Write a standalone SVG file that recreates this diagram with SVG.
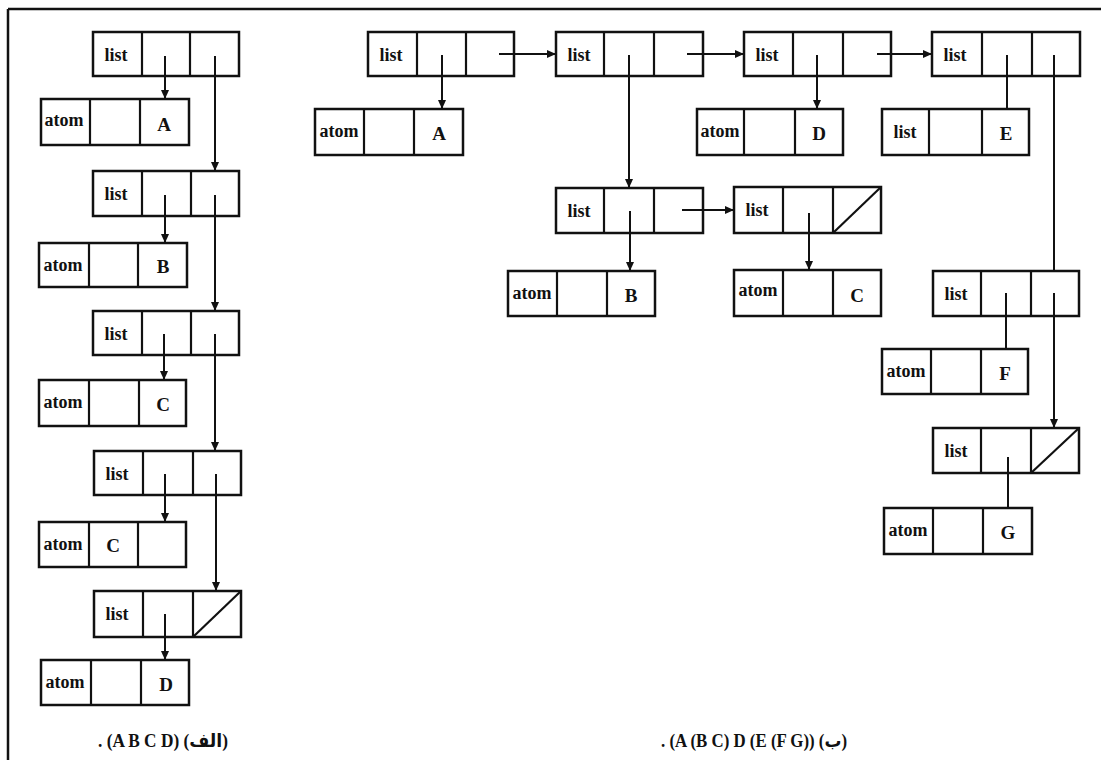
<svg xmlns="http://www.w3.org/2000/svg" width="1101" height="760" viewBox="0 0 1101 760">
<style>
.box{fill:#fff;stroke:#111;stroke-width:2.5}
.div{stroke:#111;stroke-width:2.2}
.ptr{stroke:#111;stroke-width:2;fill:none}
.w{font-family:"Liberation Serif","DejaVu Serif",serif;font-weight:bold;font-size:18px;fill:#111;text-anchor:middle}
.l{font-family:"Liberation Serif","DejaVu Serif",serif;font-weight:bold;font-size:19px;fill:#111;text-anchor:middle}
.cap{font-family:"Liberation Serif","DejaVu Sans",serif;font-weight:bold;font-size:18px;fill:#111}
</style>
<defs>
<marker id="ah" markerUnits="userSpaceOnUse" markerWidth="10" markerHeight="8" refX="9" refY="4" orient="auto">
<path d="M0,0 L9,4 L0,8 z" fill="#111"/>
</marker>
</defs>
<rect x="0" y="0" width="1101" height="760" fill="#fff"/>
<g id="frame">
<line x1="8" y1="9" x2="1101" y2="9" stroke="#111" stroke-width="2.5"/>
<line x1="8" y1="9" x2="8" y2="760" stroke="#111" stroke-width="2.5"/>
</g>

<!-- Left diagram -->
<g id="L1"><rect class="box" x="93" y="32" width="146" height="44"/><line class="div" x1="142" y1="32" x2="142" y2="76"/><line class="div" x1="190" y1="32" x2="190" y2="76"/><text class="w" x="116" y="61">list</text></g>
<g id="LA"><rect class="box" x="41" y="99" width="148" height="46"/><line class="div" x1="90" y1="99" x2="90" y2="145"/><line class="div" x1="140" y1="99" x2="140" y2="145"/><text class="w" x="64" y="126">atom</text><text class="l" x="164" y="131">A</text></g>
<g id="L2"><rect class="box" x="93" y="171" width="146" height="45"/><line class="div" x1="142" y1="171" x2="142" y2="216"/><line class="div" x1="191" y1="171" x2="191" y2="216"/><text class="w" x="116" y="200">list</text></g>
<g id="LB"><rect class="box" x="39" y="243" width="148" height="44"/><line class="div" x1="89" y1="243" x2="89" y2="287"/><line class="div" x1="138" y1="243" x2="138" y2="287"/><text class="w" x="63" y="271">atom</text><text class="l" x="163" y="273">B</text></g>
<g id="L3"><rect class="box" x="93" y="311" width="146" height="44"/><line class="div" x1="142" y1="311" x2="142" y2="355"/><line class="div" x1="191" y1="311" x2="191" y2="355"/><text class="w" x="116" y="340">list</text></g>
<g id="LC"><rect class="box" x="39" y="380" width="147" height="46"/><line class="div" x1="89" y1="380" x2="89" y2="426"/><line class="div" x1="139" y1="380" x2="139" y2="426"/><text class="w" x="63" y="408">atom</text><text class="l" x="163" y="411">C</text></g>
<g id="L4"><rect class="box" x="94" y="451" width="147" height="44"/><line class="div" x1="143" y1="451" x2="143" y2="495"/><line class="div" x1="193" y1="451" x2="193" y2="495"/><text class="w" x="117" y="480">list</text></g>
<g id="LC2"><rect class="box" x="39" y="522" width="147" height="45"/><line class="div" x1="89" y1="522" x2="89" y2="567"/><line class="div" x1="138" y1="522" x2="138" y2="567"/><text class="w" x="63" y="550">atom</text><text class="l" x="113" y="552">C</text></g>
<g id="L5"><rect class="box" x="94" y="591" width="147" height="46"/><line class="div" x1="143" y1="591" x2="143" y2="637"/><line class="div" x1="193" y1="591" x2="193" y2="637"/><line class="div" x1="193" y1="637" x2="241" y2="591"/><text class="w" x="117" y="620">list</text></g>
<g id="LD"><rect class="box" x="41" y="660" width="148" height="45"/><line class="div" x1="91" y1="660" x2="91" y2="705"/><line class="div" x1="141" y1="660" x2="141" y2="705"/><text class="w" x="65" y="688">atom</text><text class="l" x="166" y="691">D</text></g>

<!-- Right diagram -->
<g id="R1"><rect class="box" x="368" y="32" width="146" height="44"/><line class="div" x1="417" y1="32" x2="417" y2="76"/><line class="div" x1="466" y1="32" x2="466" y2="76"/><text class="w" x="391" y="61">list</text></g>
<g id="RA"><rect class="box" x="315" y="109" width="148" height="46"/><line class="div" x1="364" y1="109" x2="364" y2="155"/><line class="div" x1="414" y1="109" x2="414" y2="155"/><text class="w" x="339" y="137">atom</text><text class="l" x="439" y="140">A</text></g>
<g id="R2"><rect class="box" x="556" y="32" width="147" height="44"/><line class="div" x1="604" y1="32" x2="604" y2="76"/><line class="div" x1="654" y1="32" x2="654" y2="76"/><text class="w" x="579" y="61">list</text></g>
<g id="R3"><rect class="box" x="744" y="32" width="147" height="44"/><line class="div" x1="793" y1="32" x2="793" y2="76"/><line class="div" x1="843" y1="32" x2="843" y2="76"/><text class="w" x="767" y="61">list</text></g>
<g id="RD"><rect class="box" x="697" y="109" width="146" height="46"/><line class="div" x1="744" y1="109" x2="744" y2="155"/><line class="div" x1="795" y1="109" x2="795" y2="155"/><text class="w" x="720" y="137">atom</text><text class="l" x="819" y="140">D</text></g>
<g id="R4"><rect class="box" x="932" y="32" width="148" height="44"/><line class="div" x1="982" y1="32" x2="982" y2="76"/><line class="div" x1="1032" y1="32" x2="1032" y2="76"/><text class="w" x="955" y="61">list</text></g>
<g id="RE"><rect class="box" x="882" y="109" width="147" height="46"/><line class="div" x1="929" y1="109" x2="929" y2="155"/><line class="div" x1="982" y1="109" x2="982" y2="155"/><text class="w" x="905" y="138">list</text><text class="l" x="1006" y="140">E</text></g>
<g id="R5"><rect class="box" x="556" y="188" width="147" height="45"/><line class="div" x1="604" y1="188" x2="604" y2="233"/><line class="div" x1="654" y1="188" x2="654" y2="233"/><text class="w" x="579" y="217">list</text></g>
<g id="RB"><rect class="box" x="508" y="271" width="147" height="45"/><line class="div" x1="557" y1="271" x2="557" y2="316"/><line class="div" x1="607" y1="271" x2="607" y2="316"/><text class="w" x="532" y="299">atom</text><text class="l" x="631" y="302">B</text></g>
<g id="R7"><rect class="box" x="734" y="187" width="147" height="46"/><line class="div" x1="783" y1="187" x2="783" y2="233"/><line class="div" x1="833" y1="187" x2="833" y2="233"/><line class="div" x1="833" y1="233" x2="881" y2="187"/><text class="w" x="757" y="216">list</text></g>
<g id="RC"><rect class="box" x="734" y="270" width="147" height="46"/><line class="div" x1="783" y1="270" x2="783" y2="316"/><line class="div" x1="833" y1="270" x2="833" y2="316"/><text class="w" x="758" y="296">atom</text><text class="l" x="857" y="302">C</text></g>
<g id="R6"><rect class="box" x="933" y="271" width="146" height="45"/><line class="div" x1="981" y1="271" x2="981" y2="316"/><line class="div" x1="1031" y1="271" x2="1031" y2="316"/><text class="w" x="956" y="300">list</text></g>
<g id="RF"><rect class="box" x="882" y="349" width="146" height="45"/><line class="div" x1="931" y1="349" x2="931" y2="394"/><line class="div" x1="981" y1="349" x2="981" y2="394"/><text class="w" x="906" y="377">atom</text><text class="l" x="1005" y="380">F</text></g>
<g id="R8"><rect class="box" x="933" y="428" width="146" height="45"/><line class="div" x1="981" y1="428" x2="981" y2="473"/><line class="div" x1="1031" y1="428" x2="1031" y2="473"/><line class="div" x1="1031" y1="473" x2="1079" y2="428"/><text class="w" x="956" y="457">list</text></g>
<g id="RG"><rect class="box" x="884" y="508" width="148" height="46"/><line class="div" x1="933" y1="508" x2="933" y2="554"/><line class="div" x1="983" y1="508" x2="983" y2="554"/><text class="w" x="908" y="536">atom</text><text class="l" x="1008" y="539">G</text></g>

<g id="connectors">
<line class="ptr" x1="165" y1="56" x2="165" y2="99" marker-end="url(#ah)"/>
<line class="ptr" x1="215" y1="56" x2="215" y2="171" marker-end="url(#ah)"/>
<line class="ptr" x1="165" y1="195" x2="165" y2="243" marker-end="url(#ah)"/>
<line class="ptr" x1="215" y1="195" x2="215" y2="311" marker-end="url(#ah)"/>
<line class="ptr" x1="164" y1="334" x2="164" y2="380" marker-end="url(#ah)"/>
<line class="ptr" x1="215" y1="334" x2="215" y2="451" marker-end="url(#ah)"/>
<line class="ptr" x1="165" y1="474" x2="165" y2="522" marker-end="url(#ah)"/>
<line class="ptr" x1="216" y1="474" x2="216" y2="591" marker-end="url(#ah)"/>
<line class="ptr" x1="165" y1="614" x2="165" y2="660" marker-end="url(#ah)"/>

<line class="ptr" x1="442" y1="55" x2="442" y2="109" marker-end="url(#ah)"/>
<line class="ptr" x1="499" y1="54" x2="556" y2="54" marker-end="url(#ah)"/>
<line class="ptr" x1="629" y1="55" x2="629" y2="188" marker-end="url(#ah)"/>
<line class="ptr" x1="687" y1="54" x2="744" y2="54" marker-end="url(#ah)"/>
<line class="ptr" x1="817" y1="55" x2="817" y2="109" marker-end="url(#ah)"/>
<line class="ptr" x1="877" y1="54" x2="932" y2="54" marker-end="url(#ah)"/>
<line class="ptr" x1="1007" y1="55" x2="1007" y2="109"/>
<line class="ptr" x1="1054" y1="55" x2="1054" y2="271"/>
<line class="ptr" x1="630" y1="211" x2="630" y2="271" marker-end="url(#ah)"/>
<line class="ptr" x1="682" y1="210" x2="734" y2="210" marker-end="url(#ah)"/>
<line class="ptr" x1="809" y1="213" x2="809" y2="270" marker-end="url(#ah)"/>
<line class="ptr" x1="1006" y1="293" x2="1006" y2="349"/>
<line class="ptr" x1="1054" y1="293" x2="1054" y2="428" marker-end="url(#ah)"/>
<line class="ptr" x1="1008" y1="457" x2="1008" y2="508"/>
</g>

<g id="captions">
<text class="cap" x="98" y="747" direction="ltr" textLength="130" lengthAdjust="spacingAndGlyphs">. (A B C D) (الف)</text>
<text class="cap" x="661" y="747" direction="ltr" textLength="186" lengthAdjust="spacingAndGlyphs">. (A (B C) D (E (F G)) (ب)</text>
</g>
</svg>
